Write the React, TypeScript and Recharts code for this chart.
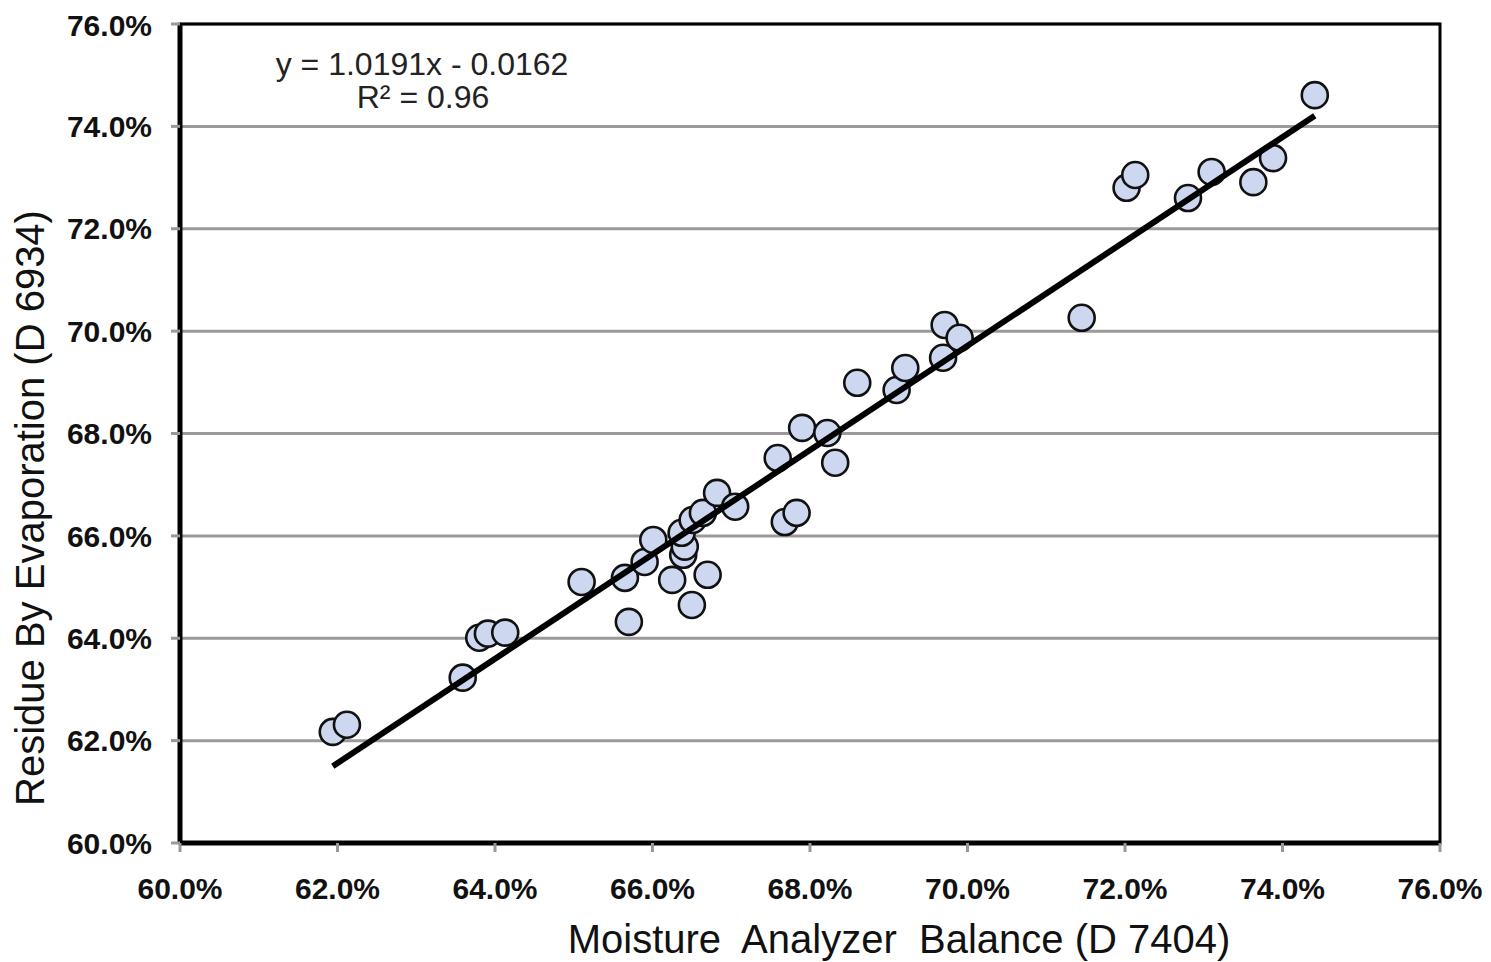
import React from 'react';
import { ScatterChart, Scatter, XAxis, YAxis, CartesianGrid, ReferenceArea } from 'recharts';

const moistureBalance = [61.94, 62.12, 63.59, 63.80, 63.91, 64.13, 65.10, 65.65, 65.70, 66.25, 66.50, 66.70, 65.90, 66.01, 66.39, 66.41, 66.37, 66.51, 66.64, 66.82, 67.05, 67.59, 67.68, 67.83, 67.90, 68.22, 68.32, 68.60, 69.10, 69.21, 69.69, 69.71, 69.90, 71.45, 72.02, 72.13, 72.80, 73.10, 73.63, 73.88, 74.41];
const residueEvap = [62.17, 62.31, 63.23, 64.01, 64.09, 64.11, 65.10, 65.18, 64.32, 65.14, 64.65, 65.24, 65.49, 65.92, 65.63, 65.79, 66.06, 66.31, 66.45, 66.84, 66.57, 67.52, 66.27, 66.45, 68.11, 68.01, 67.43, 68.99, 68.85, 69.28, 69.48, 70.12, 69.87, 70.26, 72.80, 73.05, 72.60, 73.11, 72.91, 73.38, 74.61];
const tickValues = [60, 62, 64, 66, 68, 70, 72, 74, 76];
const trendX = [61.94, 74.41];
const trendY = [61.50, 74.21];
const equationLines = ['y = 1.0191x - 0.0162', 'R\u00B2 = 0.96'];
const xTitle = 'Moisture  Analyzer  Balance (D 7404)';
const yTitle = 'Residue By Evaporation (D 6934)';

const points = moistureBalance.map((x, i) => ({ x, y: residueEvap[i] }));
const trend = trendX.map((x, i) => ({ x, y: trendY[i] }));

const FONT = '"Liberation Sans", Arial, sans-serif';
const fmt = (v: number) => v.toFixed(1) + '%';

const Dot = (props: any) => (
  <circle cx={props.cx} cy={props.cy} r={13} fill="#cdd8f0" stroke="#111" strokeWidth={2.6} />
);
const NoDot = () => <g />;

const XTitle = (props: any) => {
  const vb = props.viewBox || { x: 0, y: 0, width: 0 };
  const cx = vb.x + vb.width / 2 + 89;
  return (
    <text x={cx} y={945} textAnchor="middle" fontFamily={FONT} fontSize={40} fill="#111" style={{ whiteSpace: 'pre' }} xmlSpace="preserve">
      {xTitle}
    </text>
  );
};

const YTitle = () => (
  <text x={36} y={500} textAnchor="middle" fontFamily={FONT} fontSize={40} fill="#111" transform="rotate(-90, 36, 500)">
    {yTitle}
  </text>
);

const Equation = () => (
  <g>
    <text x={414} y={67} textAnchor="middle" fontFamily={FONT} fontSize={32} fill="#222">{equationLines[0]}</text>
    <text x={415} y={100} textAnchor="middle" fontFamily={FONT} fontSize={32} fill="#222">{equationLines[1]}</text>
  </g>
);

export default function App() {
  return (
    <div style={{ width: 1483, height: 954, background: '#fff' }}>
      <ScatterChart width={1483} height={954} margin={{ top: 16, right: 51, left: 0, bottom: 0 }}>
        <CartesianGrid vertical={false} stroke="#9a9a9a" strokeWidth={3} />
        <XAxis
          type="number"
          dataKey="x"
          domain={[60, 76]}
          ticks={tickValues}
          tickFormatter={fmt}
          height={119}
          tickSize={9}
          tickMargin={26}
          axisLine={{ stroke: '#000', strokeWidth: 5 }}
          tickLine={{ stroke: '#999', strokeWidth: 3 }}
          tick={{ fontFamily: FONT, fontSize: 30, fontWeight: 'bold', fill: '#111' }}
          label={<XTitle />}
        />
        <YAxis
          type="number"
          dataKey="y"
          domain={[60, 76]}
          ticks={tickValues}
          tickFormatter={fmt}
          width={172}
          tickSize={9}
          tickMargin={19}
          axisLine={{ stroke: '#000', strokeWidth: 5 }}
          tickLine={{ stroke: '#999', strokeWidth: 3 }}
          tick={{ fontFamily: FONT, fontSize: 30, fontWeight: 'bold', fill: '#111' }}
          label={<YTitle />}
        />
        <ReferenceArea x1={60} x2={76} y1={60} y2={76} fill="none" stroke="#000" strokeWidth={3} ifOverflow="visible" label={<Equation />} />
        <Scatter data={points} shape={<Dot />} isAnimationActive={false} />
        <Scatter data={trend} shape={<NoDot />} line={{ stroke: '#000', strokeWidth: 6 }} isAnimationActive={false} />
      </ScatterChart>
    </div>
  );
}
